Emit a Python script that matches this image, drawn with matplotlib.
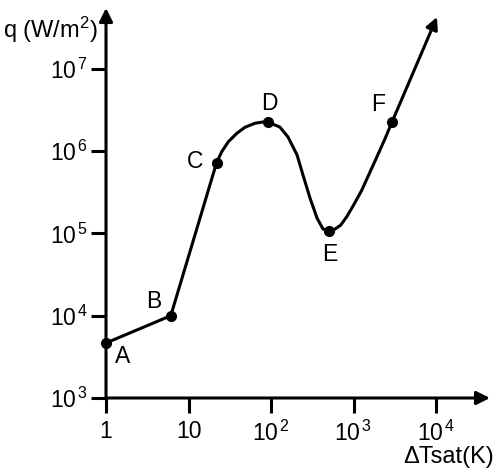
import numpy as np
import matplotlib
matplotlib.use("Agg")
import matplotlib.pyplot as plt

plt.rcParams['font.family'] = ['Liberation Sans', 'DejaVu Sans']
plt.rcParams['mathtext.fontset'] = 'custom'
plt.rcParams['mathtext.rm'] = 'Liberation Sans'
plt.rcParams['mathtext.it'] = 'Liberation Sans:italic'

# boiling curve (dT in K, q in W/m2)
dT_curve = [1, 6.1, 21.9, 25.3, 30.4, 38.4, 48.4, 64.0, 80.7, 93,
            128, 161, 207, 244, 297, 361, 427, 505,
            590, 700, 830, 1000, 1250, 1590, 2000, 2400, 2930]
q_curve = [4.66e3, 1.0e4, 7.23e5, 9.84e5, 1.30e6, 1.64e6, 1.95e6, 2.18e6, 2.26e6, 2.24e6,
           1.96e6, 1.48e6, 8.97e5, 5.13e5, 2.69e5, 1.54e5, 1.13e5, 1.07e5,
           1.12e5, 1.26e5, 1.60e5, 2.20e5, 3.30e5, 5.60e5, 9.30e5, 1.40e6, 2.26e6]
dT_tip = 10280
q_tip = 4.26e7

# marked points
pt_names = ['A', 'B', 'C', 'D', 'E', 'F']
pt_dT = [1, 6.1, 21.9, 93, 505, 2930]
pt_q = [4.66e3, 1.0e4, 7.23e5, 2.24e6, 1.07e5, 2.26e6]
pt_off = [(17, -14), (-17, 14), (-22, 1), (1, 19), (1, -24), (-14, 17)]

xticks = [1, 10, 100, 1000, 10000]
xticklabels = ['1', '10', r'$\mathregular{10^{\,2}}$', r'$\mathregular{10^{\,3}}$', r'$\mathregular{10^{\,4}}$']
yticks = [1e3, 1e4, 1e5, 1e6, 1e7]
yticklabels = [r'$\mathregular{10^{\,%d}}$' % k for k in range(3, 8)]

W, H = 500, 475
fig = plt.figure(figsize=(5, 4.75), dpi=100)
x0, y0, x1, y1 = 106, 398, 490, 8
ax = fig.add_axes([x0 / W, 1 - y0 / H, (x1 - x0) / W, (y0 - y1) / H])
ax.set_xscale('log')
ax.set_yscale('log')
ax.set_xlim(1, 10 ** ((x1 - x0) / 82.5))
ax.set_ylim(1e3, 10 ** (3 + (y0 - y1) / 82.3))

for s in ax.spines.values():
    s.set_visible(False)

lw = 2.2
ax.annotate('', xy=(1, 0), xytext=(0, 0), xycoords='axes fraction',
            arrowprops=dict(arrowstyle='-|>', lw=lw, color='k', mutation_scale=20,
                            shrinkA=0, shrinkB=0), annotation_clip=False)
ax.annotate('', xy=(0, 1), xytext=(0, 0), xycoords='axes fraction',
            arrowprops=dict(arrowstyle='-|>', lw=lw, color='k', mutation_scale=20,
                            shrinkA=0, shrinkB=0), annotation_clip=False)

ax.set_xticks(xticks)
ax.set_xticklabels(xticklabels)
ax.set_yticks(yticks)
ax.set_yticklabels(yticklabels)
ax.minorticks_off()
ax.tick_params(direction='out', length=11, width=lw, labelsize=16.5)
ax.tick_params(axis='x', pad=5)
ax.tick_params(axis='y', pad=2)

ax.plot(dT_curve, q_curve, color='k', lw=lw, solid_capstyle='round',
        solid_joinstyle='round', clip_on=False)
ax.annotate('', xy=(dT_tip, q_tip), xytext=(dT_curve[-1], q_curve[-1]),
            arrowprops=dict(arrowstyle='-|>', lw=lw, color='k', mutation_scale=18,
                            shrinkA=0, shrinkB=0), annotation_clip=False)
ax.plot(pt_dT, pt_q, 'o', color='k', ms=7, clip_on=False, zorder=5)
for name, xd, yd, off in zip(pt_names, pt_dT, pt_q, pt_off):
    ax.annotate(name, xy=(xd, yd), xytext=off, textcoords='offset pixels',
                ha='center', va='center', fontsize=16.5)

fig.text(3 / W, 1 - 30 / H, r'q (W/m$^{2}$)', ha='left', va='center', fontsize=17)
fig.text(494 / W, 1 - 457 / H, 'ΔTsat(K)', ha='right', va='center', fontsize=17)

fig.savefig('out.png', dpi=100)
